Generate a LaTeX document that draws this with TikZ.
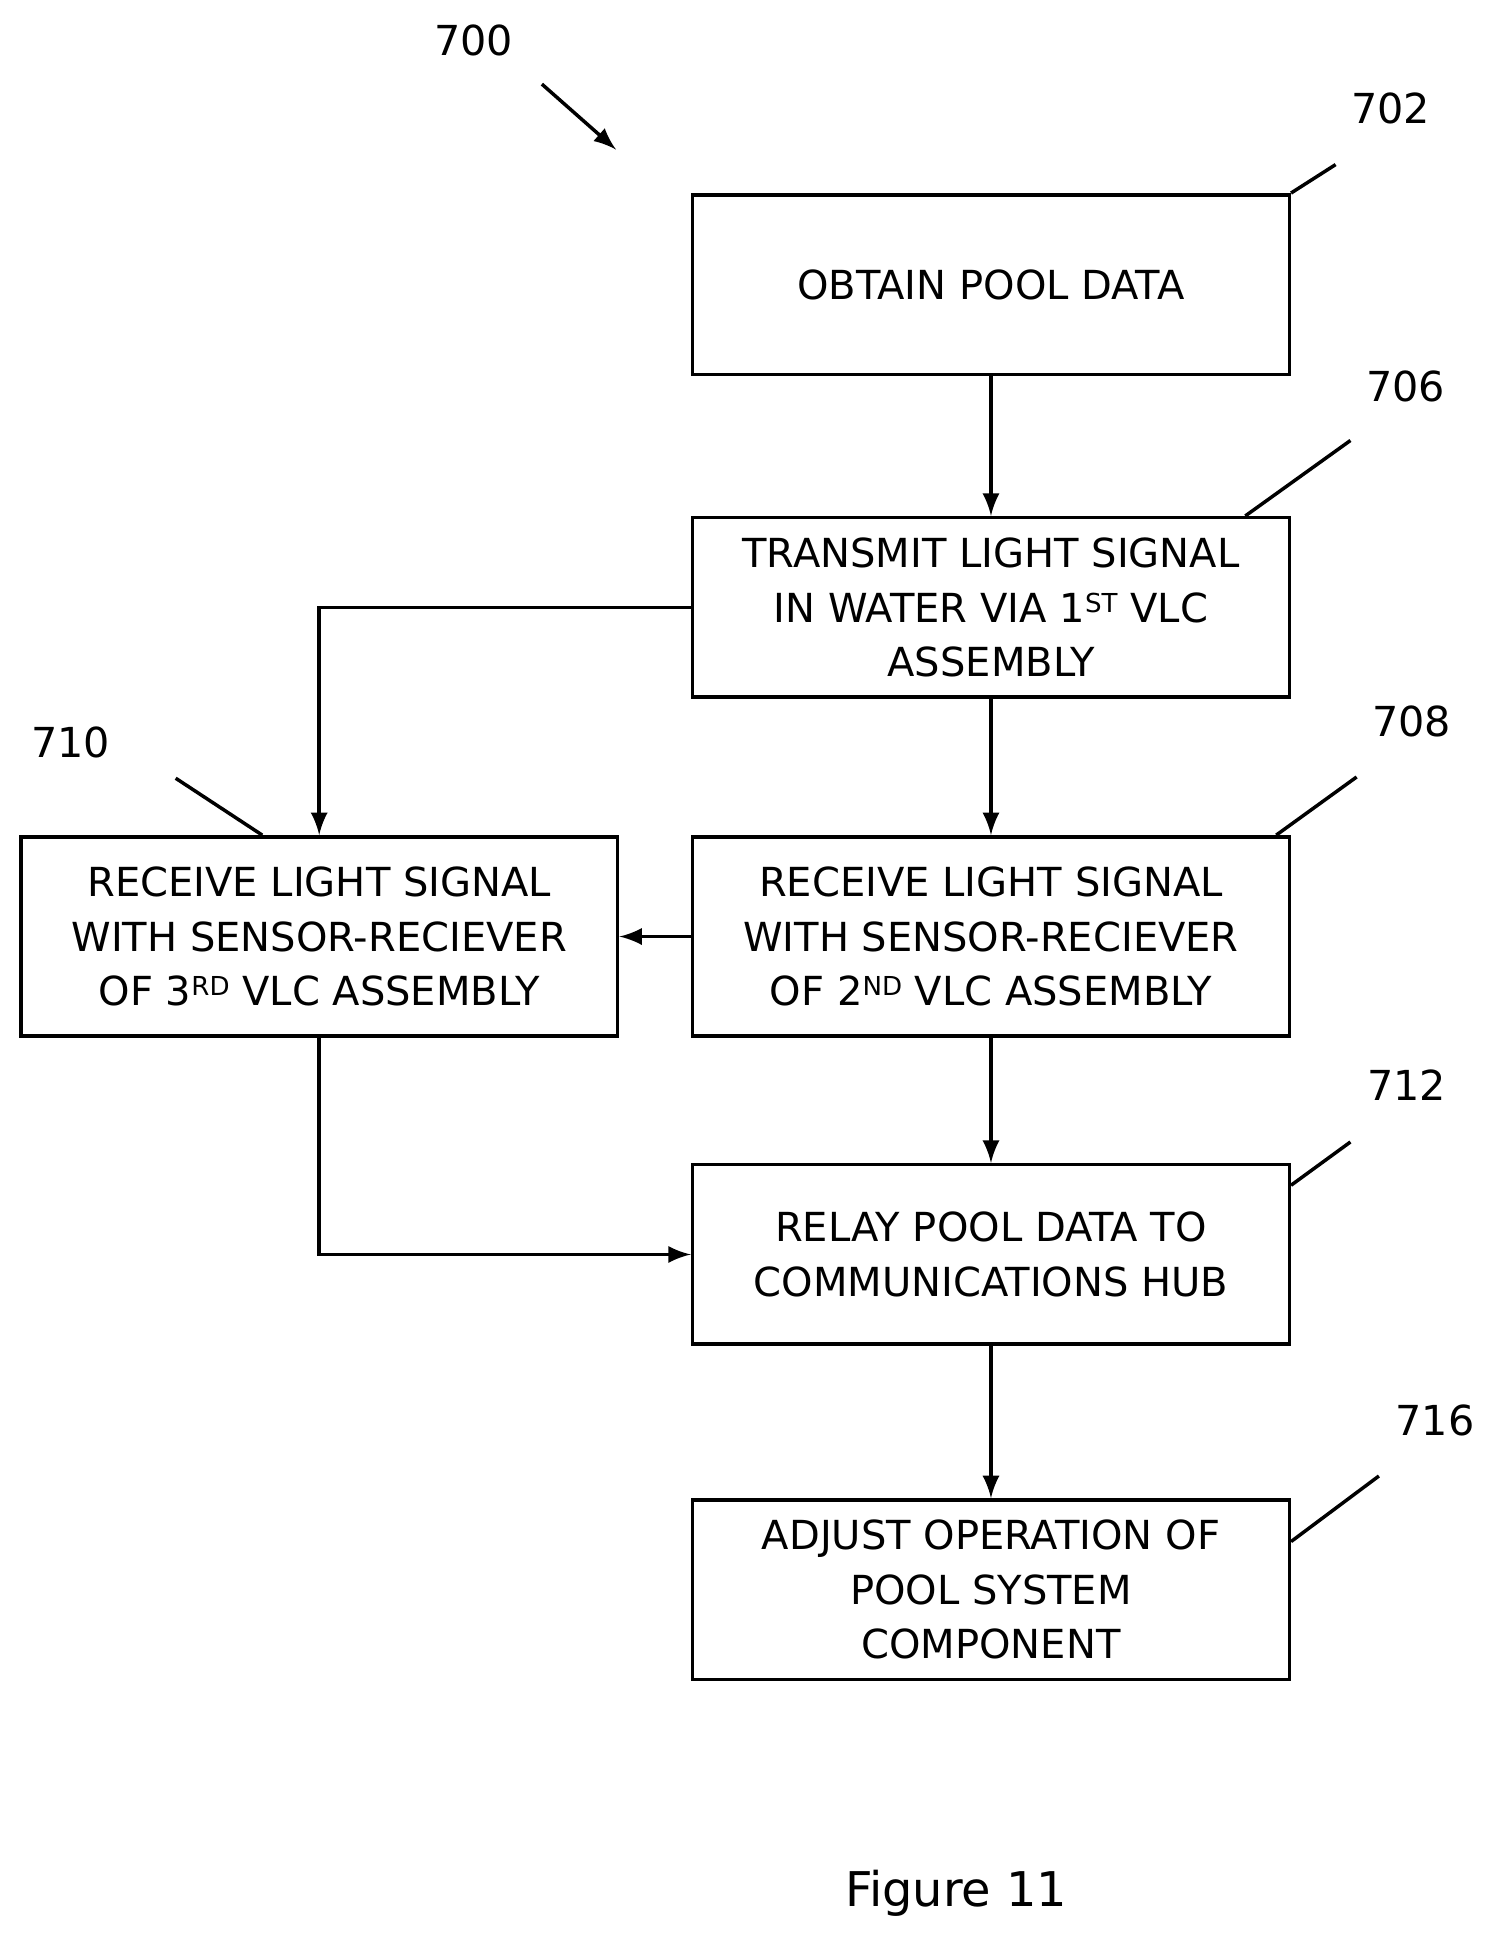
\documentclass[tikz,border=0pt]{standalone}
\usepackage{fontspec}
\setmainfont{DejaVu Sans}
\usetikzlibrary{positioning}
\newcommand{\sups}[1]{\raisebox{0.45ex}{\fontsize{6}{6}\selectfont #1}}
\begin{document}
\begin{tikzpicture}[x=0.01cm,y=-0.01cm,
  box/.style={draw,thick,minimum width=4.82cm,minimum height=1.45cm,align=center,font=\fontsize{9.2}{12.5}\selectfont,inner sep=0pt},
  tall/.style={box,minimum height=1.61cm},
  flow/.style={draw,thick,-latex},
  ref/.style={font=\fontsize{9.5}{11}\selectfont}]
\useasboundingbox (0,0) rectangle (1215,1577);
% steps
\node[box] (obtain) at (801,230) {OBTAIN POOL DATA};
\node[box] (transmit) at (801,491) {TRANSMIT LIGHT SIGNAL\\IN WATER VIA 1\sups{ST} VLC\\ASSEMBLY};
\node[tall] (recv2) at (801,757) {RECEIVE LIGHT SIGNAL\\WITH SENSOR-RECIEVER\\OF 2\sups{ND} VLC ASSEMBLY};
\node[tall] (recv3) at (258,757) {RECEIVE LIGHT SIGNAL\\WITH SENSOR-RECIEVER\\OF 3\sups{RD} VLC ASSEMBLY};
\node[box] (relay) at (801,1014) {RELAY POOL DATA TO\\COMMUNICATIONS HUB};
\node[box] (adjust) at (801,1285) {ADJUST OPERATION OF\\POOL SYSTEM\\COMPONENT};
% connectors
\draw[flow] (obtain) -- (transmit);
\draw[flow] (transmit) -- (recv2);
\draw[flow] (transmit.west) -| (recv3.north);
\draw[flow] (recv2) -- (recv3);
\draw[flow] (recv2) -- (relay);
\draw[flow] (recv3.south) |- (relay.west);
\draw[flow] (relay) -- (adjust);
% reference numerals
\node[ref] (n700) at (383,33) {700};
\coordinate (a700) at (438,68);
\coordinate (b700) at (498,121);
\draw[thick,-latex] (a700) -- (b700);
\node[ref] (n702) at (1124,88) {702};
\draw[thick] (obtain.north east) -- ++(36,-23);
\node[ref] (n706) at (1136,312) {706};
\draw[thick] ([shift={(-37,0)}]transmit.north east) -- ++(85,-61);
\node[ref] (n708) at (1141,583) {708};
\draw[thick] ([shift={(-12,0)}]recv2.north east) -- ++(65,-47);
\node[ref] (n710) at (57,600) {710};
\draw[thick] ([shift={(-46,0)}]recv3.north) -- ++(-70,-46);
\node[ref] (n712) at (1137,877) {712};
\draw[thick] ([shift={(0,18)}]relay.north east) -- ++(48,-35);
\node[ref] (n716) at (1160,1148) {716};
\draw[thick] ([shift={(0,35)}]adjust.north east) -- ++(71,-53);
\node[font=\fontsize{11}{13}\selectfont] (fig) at (773,1530) {Figure 11};
\end{tikzpicture}
\end{document}
